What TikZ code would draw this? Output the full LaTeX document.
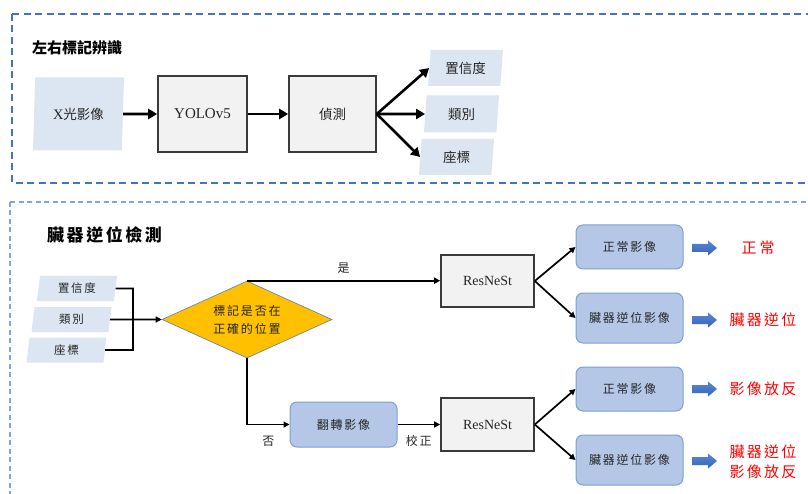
\documentclass[tikz,border=0pt]{standalone}
\usepackage{fontspec}
\setmainfont{Liberation Serif}
\newfontfamily\cjk{Noto Sans CJK TC}
\newfontfamily\cjks{Noto Sans CJK TC}[LetterSpace=15]
\usetikzlibrary{arrows.meta,shapes.geometric,calc}

\definecolor{frametop}{HTML}{4472C4}
\definecolor{framebot}{HTML}{86A3D8}
\definecolor{parafill}{HTML}{DCE6F2}
\definecolor{boxgray}{HTML}{F2F2F2}
\definecolor{boxedge}{HTML}{3A3A3A}
\definecolor{stepfill}{HTML}{B4C7E7}
\definecolor{stepedge}{HTML}{7F9FD6}
\definecolor{diagold}{HTML}{FFC000}
\definecolor{diaedge}{HTML}{5B7DB8}
\definecolor{fatlight}{HTML}{5B86D6}
\definecolor{fatdark}{HTML}{3563B8}
\definecolor{resultred}{HTML}{FF0000}
\definecolor{txt}{HTML}{262626}

\tikzset{
  frameA/.style={draw=frametop, line width=1.5pt, dash pattern=on 7pt off 4.5pt},
  frameB/.style={draw=framebot, line width=1.3pt, dash pattern=on 5pt off 3.5pt},
  cjktop/.style={font=\cjk\fontsize{13.5}{16}\selectfont},
  cjkbot/.style={font=\cjks\fontsize{12}{18}\selectfont},
  paratop/.style={trapezium, trapezium left angle=80, trapezium right angle=100,
    trapezium stretches body, fill=parafill, inner sep=0pt, text=txt},
  paraside/.style={trapezium, trapezium left angle=78, trapezium right angle=102,
    trapezium stretches body, fill=parafill, inner sep=0pt, text=txt, cjktop,
    minimum width=75pt, minimum height=36pt},
  parasmall/.style={trapezium, trapezium left angle=74, trapezium right angle=106,
    trapezium stretches body, fill=parafill, inner sep=0pt, text=txt,
    minimum width=80pt, minimum height=25pt, font=\cjks\fontsize{11.5}{14}\selectfont},
  graybox/.style={rectangle, draw=boxedge, line width=1.6pt, fill=boxgray, text=txt},
  stepbox/.style={rectangle, rounded corners=7pt, draw=stepedge, line width=1pt,
    fill=stepfill, text=txt, minimum width=107pt, cjkbot},
  decision/.style={diamond, aspect=2.2, fill=diagold, draw=diaedge, line width=0.6pt,
    inner sep=0pt, minimum width=170pt, minimum height=77pt, align=center, text=txt,
    cjkbot},
  bigarrow/.style={line width=2.6pt, -{Triangle[length=9pt,width=10pt]}},
  link/.style={line width=1.7pt},
  linkarrow/.style={line width=1.7pt, -{Triangle[length=6pt,width=6pt]}},
  lbl/.style={text=txt, inner sep=1pt, cjkbot},
  result/.style={text=resultred, align=center, inner sep=0pt,
    font=\cjks\fontsize{15}{20}\selectfont},
}

\newcommand\fatarrow[1]{%
  \shade[top color=fatlight, bottom color=fatdark]
    ($(#1)+(0,-4)$) -- ++(16,0) -- ++(0,-3.5) -- ++(9,7.5) -- ++(-9,7.5)
    -- ++(0,-3.5) -- ++(-16,0) -- cycle;}

\begin{document}
\begin{tikzpicture}[x=1pt,y=-1pt]
\useasboundingbox (0,0) rectangle (808,494);
\fill[white] (0,0) rectangle (808,494);

% ---------- section frames ----------
\draw[frameA] (12,14) -- (815,14);
\draw[frameA] (12,14) -- (12,183) -- (815,183);
\draw[frameB] (10,202) -- (815,202);
\draw[frameB] (10,202) -- (10,500);

% ---------- upper section: marker recognition ----------
\node[anchor=west, inner sep=0pt, font=\cjk\bfseries\fontsize{15}{18}\selectfont]
  (titleA) at (32,48) {左右標記辨識};

\node[paratop, minimum width=91pt, minimum height=73pt] (xray) at (78.5,114)
  {\fontsize{14.5}{16}\selectfont X{\cjk\fontsize{13.5}{16}\selectfont 光影像}};
\node[graybox, minimum width=89pt, minimum height=76pt,
  font=\fontsize{15}{18}\selectfont] (yolo) at (202.5,114) {YOLOv5};
\node[graybox, minimum width=87pt, minimum height=76pt, cjktop] (det) at (332.5,114)
  {偵測};

\node[paraside] (conf) at (465.5,68) {置信度};
\node[paraside, minimum height=37pt] (cls) at (461.5,114) {類別};
\node[paraside] (loc) at (456.5,157) {座標};

\draw[bigarrow] (xray.east) -- (yolo.west);
\draw[bigarrow] (yolo.east) -- (det.west);
\draw[bigarrow] (det.east) -- (conf.west);
\draw[bigarrow] (det.east) -- (cls.west);
\draw[bigarrow] (det.east) -- (loc.west);

% ---------- lower section: organ inversion check ----------
\node[anchor=west, inner sep=0pt, font=\cjks\bfseries\fontsize{17}{20}\selectfont]
  (titleB) at (47,235) {臟器逆位檢測};

\node[parasmall] (s1) at (77,288.5) {置信度};
\node[parasmall] (s2) at (71.5,319.5) {類別};
\node[parasmall] (s3) at (66.5,350) {座標};

\node[decision] (dia) at (247,319.5) {標記是否在\\正確的位置};

\coordinate (brk) at (133,350);
\draw[link] (s1.east) -| (brk) -- (s3.east);
\draw[linkarrow] (s2.east) -- (dia.west);

\node[graybox, minimum width=93pt, minimum height=52pt,
  font=\fontsize{14}{16}\selectfont] (rn1) at (487.5,281) {ResNeSt};
\node[stepbox, minimum height=45pt] (flip) at (343.5,424.5) {翻轉影像};
\node[graybox, minimum width=93pt, minimum height=53pt,
  font=\fontsize{14}{16}\selectfont] (rn2) at (487.5,424.5) {ResNeSt};

\draw[linkarrow] (dia.north) -- (dia.north -| rn1.west)
  node[lbl, midway, above=5pt] {是};
\draw[linkarrow] (dia.south) |- (flip.west)
  node[lbl, pos=0.75, below=10pt] {否};
\draw[linkarrow] (flip.east) -- (rn2.west)
  node[lbl, midway, below=9pt] {校正};

\node[stepbox, minimum height=44pt] (n1) at (629.5,247) {正常影像};
\node[stepbox, minimum height=50pt] (r1) at (629.5,318) {臟器逆位影像};
\node[stepbox, minimum height=44pt] (n2) at (629.5,389) {正常影像};
\node[stepbox, minimum height=50pt] (r2) at (629.5,460) {臟器逆位影像};

\draw[linkarrow] (rn1.east) -- (n1.west);
\draw[linkarrow] (rn1.east) -- (r1.west);
\draw[linkarrow] (rn2.east) -- (n2.west);
\draw[linkarrow] (rn2.east) -- (r2.west);

% block arrows pointing at the outcomes
\coordinate (fa1) at (692,248);
\coordinate (fa2) at (692,320);
\coordinate (fa3) at (692,389);
\coordinate (fa4) at (692,461);
\fatarrow{fa1}
\fatarrow{fa2}
\fatarrow{fa3}
\fatarrow{fa4}

\node[result] (o1) at (758,248) {正\hspace{3pt}常};
\node[result] (o2) at (763,320) {臟器逆位};
\node[result] (o3) at (763,389) {影像放反};
\node[result] (o4) at (763,462) {臟器逆位\\影像放反};
\end{tikzpicture}
\end{document}
